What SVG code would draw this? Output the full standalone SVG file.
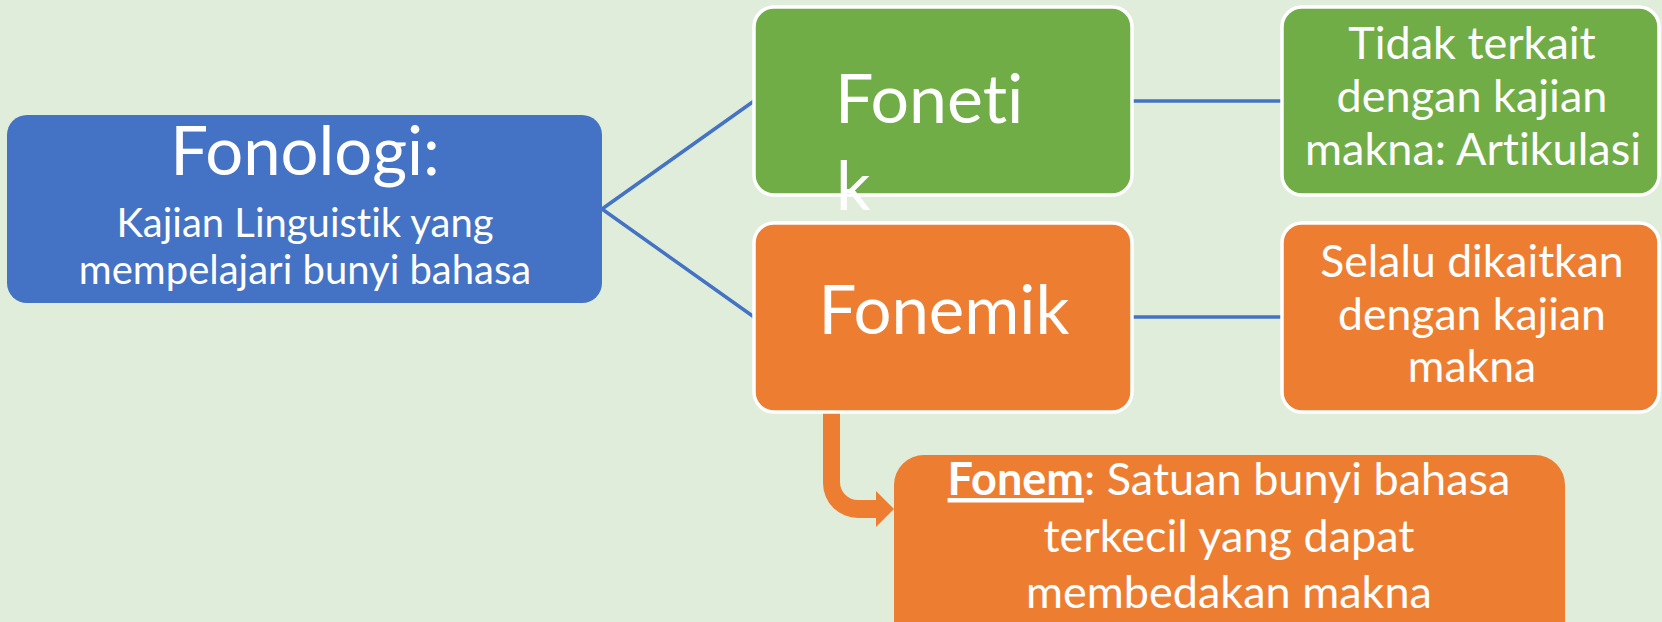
<svg xmlns="http://www.w3.org/2000/svg" width="1662" height="622" viewBox="0 0 1662 622">
<style>
text{font-family:Lato,"Open Sans","Liberation Sans",sans-serif;fill:#fff;font-variant-ligatures:none;font-feature-settings:"liga" 0,"clig" 0;}
.c{text-anchor:middle;}
.line{stroke:#4472C4;stroke-width:3.5;fill:none;}
.bx{stroke:#fff;stroke-width:3.5;}
.g{fill:#70AD47;}
.o{fill:#ED7D31;}
.m{font-size:45px;}
</style>
<rect x="0" y="0" width="1662" height="622" fill="#E1EDDB"/>
<g id="connectors">
<line class="line" x1="602" y1="209" x2="754" y2="101"/>
<line class="line" x1="602" y1="209" x2="754" y2="317"/>
<line class="line" x1="1132" y1="101" x2="1282" y2="101"/>
<line class="line" x1="1132" y1="317" x2="1282" y2="317"/>
<path d="M823 412 V483 A35 35 0 0 0 858 518 H876 V527 L894 509 L876 491 V500 H858 A18 18 0 0 1 840 482 V412 Z" fill="#ED7D31"/>
</g>
<g id="fonologi">
<rect x="7" y="115" width="595" height="188" rx="20" fill="#4472C4"/>
<text class="c" x="305" y="175" font-size="67">Fonologi:</text>
<text class="c" x="305" y="237" font-size="40">Kajian Linguistik yang</text>
<text class="c" x="305" y="284" font-size="40">mempelajari bunyi bahasa</text>
</g>
<g id="fonetik">
<rect class="bx g" x="754" y="7" width="378" height="188" rx="20"/>
<text x="835" y="123" font-size="68">Foneti</text>
<text x="836" y="210" font-size="68">k</text>
</g>
<g id="fonemik">
<rect class="bx o" x="754" y="223" width="378" height="189" rx="20"/>
<text class="c" x="944" y="334" font-size="67">Fonemik</text>
</g>
<g id="tidak">
<rect class="bx g" x="1282" y="7" width="377" height="188" rx="20"/>
<text class="c m" x="1472" y="59">Tidak terkait</text>
<text class="c m" x="1472" y="112">dengan kajian</text>
<text class="c m" x="1473" y="165">makna: Artikulasi</text>
</g>
<g id="selalu">
<rect class="bx o" x="1282" y="223" width="377" height="189" rx="20"/>
<text class="c" x="1472" y="277" font-size="44.5">Selalu dikaitkan</text>
<text class="c" x="1472" y="330" font-size="44.5">dengan kajian</text>
<text class="c" x="1472" y="382" font-size="44.5">makna</text>
</g>
<g id="fonem">
<rect x="894" y="455" width="671" height="200" rx="30" fill="#ED7D31"/>
<text class="c m" x="1229" y="495"><tspan font-weight="bold" text-decoration="underline">Fonem</tspan>: Satuan bunyi bahasa</text>
<text class="c m" x="1229" y="552">terkecil yang dapat</text>
<text class="c m" x="1229" y="608">membedakan makna</text>
</g>
</svg>
